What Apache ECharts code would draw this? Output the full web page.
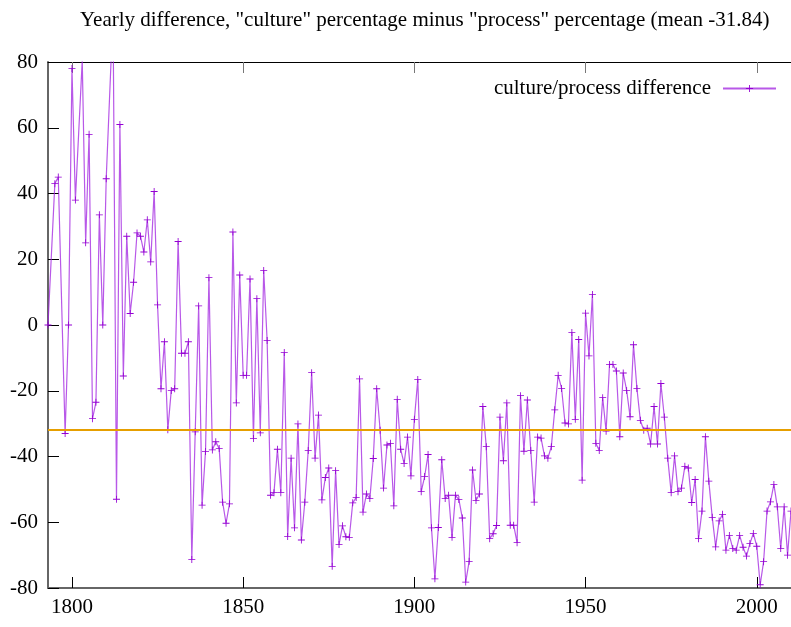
<!DOCTYPE html>
<html>
<head>
<meta charset="utf-8">
<script src="https://cdn.jsdelivr.net/npm/echarts@6/dist/echarts.min.js"></script>
<style>
  html, body { margin: 0; padding: 0; background: #fff; }
  #chart { width: 791px; height: 627px; }
</style>
</head>
<body>
<div id="chart"></div>
<script>
// yearly values (a few early years have no data)
const years = [
  1793, 1795, 1796, 1798, 1799, 1800, 1801, 1803, 1804, 1805, 1806, 1807, 1808, 1809, 1810,
  1812, 1813, 1814, 1815, 1816, 1817, 1818, 1819, 1820, 1821, 1822, 1823, 1824, 1825, 1826,
  1827, 1828, 1829, 1830, 1831, 1832, 1833, 1834, 1835, 1836, 1837, 1838, 1839, 1840, 1841,
  1842, 1843, 1844, 1845, 1846, 1847, 1848, 1849, 1850, 1851, 1852, 1853, 1854, 1855, 1856,
  1857, 1858, 1859, 1860, 1861, 1862, 1863, 1864, 1865, 1866, 1867, 1868, 1869, 1870, 1871,
  1872, 1873, 1874, 1875, 1876, 1877, 1878, 1879, 1880, 1881, 1882, 1883, 1884, 1885, 1886,
  1887, 1888, 1889, 1890, 1891, 1892, 1893, 1894, 1895, 1896, 1897, 1898, 1899, 1900, 1901,
  1902, 1903, 1904, 1905, 1906, 1907, 1908, 1909, 1910, 1911, 1912, 1913, 1914, 1915, 1916,
  1917, 1918, 1919, 1920, 1921, 1922, 1923, 1924, 1925, 1926, 1927, 1928, 1929, 1930, 1931,
  1932, 1933, 1934, 1935, 1936, 1937, 1938, 1939, 1940, 1941, 1942, 1943, 1944, 1945, 1946,
  1947, 1948, 1949, 1950, 1951, 1952, 1953, 1954, 1955, 1956, 1957, 1958, 1959, 1960, 1961,
  1962, 1963, 1964, 1965, 1966, 1967, 1968, 1969, 1970, 1971, 1972, 1973, 1974, 1975, 1976,
  1977, 1978, 1979, 1980, 1981, 1982, 1983, 1984, 1985, 1986, 1987, 1988, 1989, 1990, 1991,
  1992, 1993, 1994, 1995, 1996, 1997, 1998, 1999, 2000, 2001, 2002, 2003, 2004, 2005, 2006,
  2007, 2008, 2009, 2010
];
const diffs = [
  0, 43, 45, -33, 0, 78, 38, 80.5, 25, 58, -28.5, -23.5, 33.5, 0, 44.5,
  95, -53, 61, -15.5, 27, 3.5, 13, 28, 27, 22.2, 32, 19.2, 40.6, 6.1, -19.4,
  -5.1, -31.9, -19.9, -19.4, 25.4, -8.6, -8.6, -5.1, -71.3, -32.5, 5.8, -54.8, -38.5, 14.4, -38,
  -35.5, -37.6, -53.9, -60.3, -54.4, 28.3, -23.7, 15.2, -15.3, -15.3, 14, -34.5, 8, -32.8, 16.6,
  -4.7, -51.8, -51, -37.8, -51, -8.4, -64.3, -40.5, -61.7, -30.1, -65.4, -53.9, -38.2, -14.5, -40.5,
  -27.4, -53.2, -46.4, -43.5, -73.4, -44.3, -66.8, -61.1, -64.4, -64.6, -54.1, -52.5, -16.4, -56.9, -51.4,
  -52.8, -40.6, -19.4, -32, -49.6, -36.5, -36, -55, -22.6, -37.8, -42.1, -34.1, -45.9, -28.7, -16.6,
  -50.7, -46.1, -39.4, -61.7, -77.2, -61.6, -41, -52.8, -51.8, -64.6, -51.8, -53.1, -58.7, -78.2, -71.9,
  -44.1, -53.4, -51.4, -24.8, -37, -65, -63.5, -61, -28, -41.3, -23.7, -60.9, -60.9, -66.2, -21.5,
  -38.4, -22.8, -38.2, -53.9, -34.1, -34.4, -39.8, -40.5, -37, -25.8, -15.3, -19.3, -29.8, -30.1, -2.3,
  -28.7, -4.4, -47.2, 3.6, -9.4, 9.3, -36, -38.2, -22.1, -32.3, -12, -12, -14, -34, -14.6,
  -19.9, -27.9, -6, -19.3, -29, -32, -31.4, -36.2, -24.8, -36.2, -17.8, -28, -40.5, -51, -39.8,
  -50.7, -49.6, -43, -43.5, -54, -47, -65, -56.6, -34, -47.5, -58.5, -67.5, -59.6, -57.6, -68.5,
  -64, -68, -68.5, -64, -67.6, -70.3, -66.5, -63.4, -67.3, -79, -72, -56.6, -53.8, -48.5, -55.3,
  -68, -55.3, -70, -56.6
];
const meanDiff = -31.84;
const xTicks = [1800, 1850, 1900, 1950, 2000];
const yTicks = [-80, -60, -40, -20, 0, 20, 40, 60, 80];

const font = 'Liberation Serif';
const plus = 'path://M4.4,0H5.6V4.4H10V5.6H5.6V10H4.4V5.6H0V4.4H4.4Z';

let chart = echarts.init(document.getElementById('chart'));
let option = {
  animation: false,
  title: {
    text: 'Yearly difference, "culture" percentage minus "process" percentage (mean -31.84)',
    left: 75,
    top: 5,
    textStyle: { fontFamily: font, fontSize: 21, fontWeight: 'normal', color: '#000' }
  },
  legend: {
    right: 14,
    top: 78,
    padding: 0,
    align: 'right',
    itemWidth: 53,
    itemHeight: 9,
    textStyle: { fontFamily: font, fontSize: 21, color: '#000', padding: [0, 7, 0, 0] },
    data: ['culture/process difference']
  },
  grid: { left: 48, right: 0, top: 62, bottom: 39, containLabel: false },
  xAxis: [{
    type: 'value',
    min: 1793,
    max: 2010,
    splitLine: { show: false },
    axisLine: { show: true, onZero: false, lineStyle: { color: '#666', width: 2 } },
    axisTick: { inside: true, length: 11, customValues: xTicks, lineStyle: { color: '#000' } },
    axisLabel: {
      customValues: xTicks, margin: 9, fontFamily: font, fontSize: 21, color: '#000',
      formatter: v => String(v)
    }
  }, {
    type: 'value',
    position: 'top',
    min: 1793,
    max: 2010,
    splitLine: { show: false },
    axisLine: { show: true, onZero: false, lineStyle: { color: '#000', width: 1 } },
    axisTick: { inside: true, length: 11, customValues: xTicks, lineStyle: { color: '#777' } },
    axisLabel: { show: false }
  }],
  yAxis: {
    type: 'value',
    min: -80,
    max: 80,
    interval: 20,
    splitLine: { show: false },
    axisLine: { show: true, onZero: false, lineStyle: { color: '#666', width: 2 } },
    axisTick: { inside: true, length: 11, lineStyle: { color: '#000' } },
    axisLabel: {
      customValues: yTicks, margin: 10, fontFamily: font, fontSize: 21, color: '#000',
      formatter: v => String(v)
    }
  },
  series: [{
    name: 'culture/process difference',
    type: 'line',
    data: years.map((y, i) => [y, diffs[i]]),
    symbol: plus,
    symbolSize: 7,
    showAllSymbol: true,
    color: '#9400d3',
    lineStyle: { color: '#a020e0', width: 1.2, opacity: 0.75 },
    itemStyle: { color: '#9400d3' },
    markLine: {
      silent: true,
      symbol: 'none',
      label: { show: false },
      lineStyle: { color: '#e69f00', width: 2, type: 'solid' },
      data: [{ yAxis: meanDiff }]
    }
  }]
};
chart.setOption(option);
</script>
</body>
</html>
